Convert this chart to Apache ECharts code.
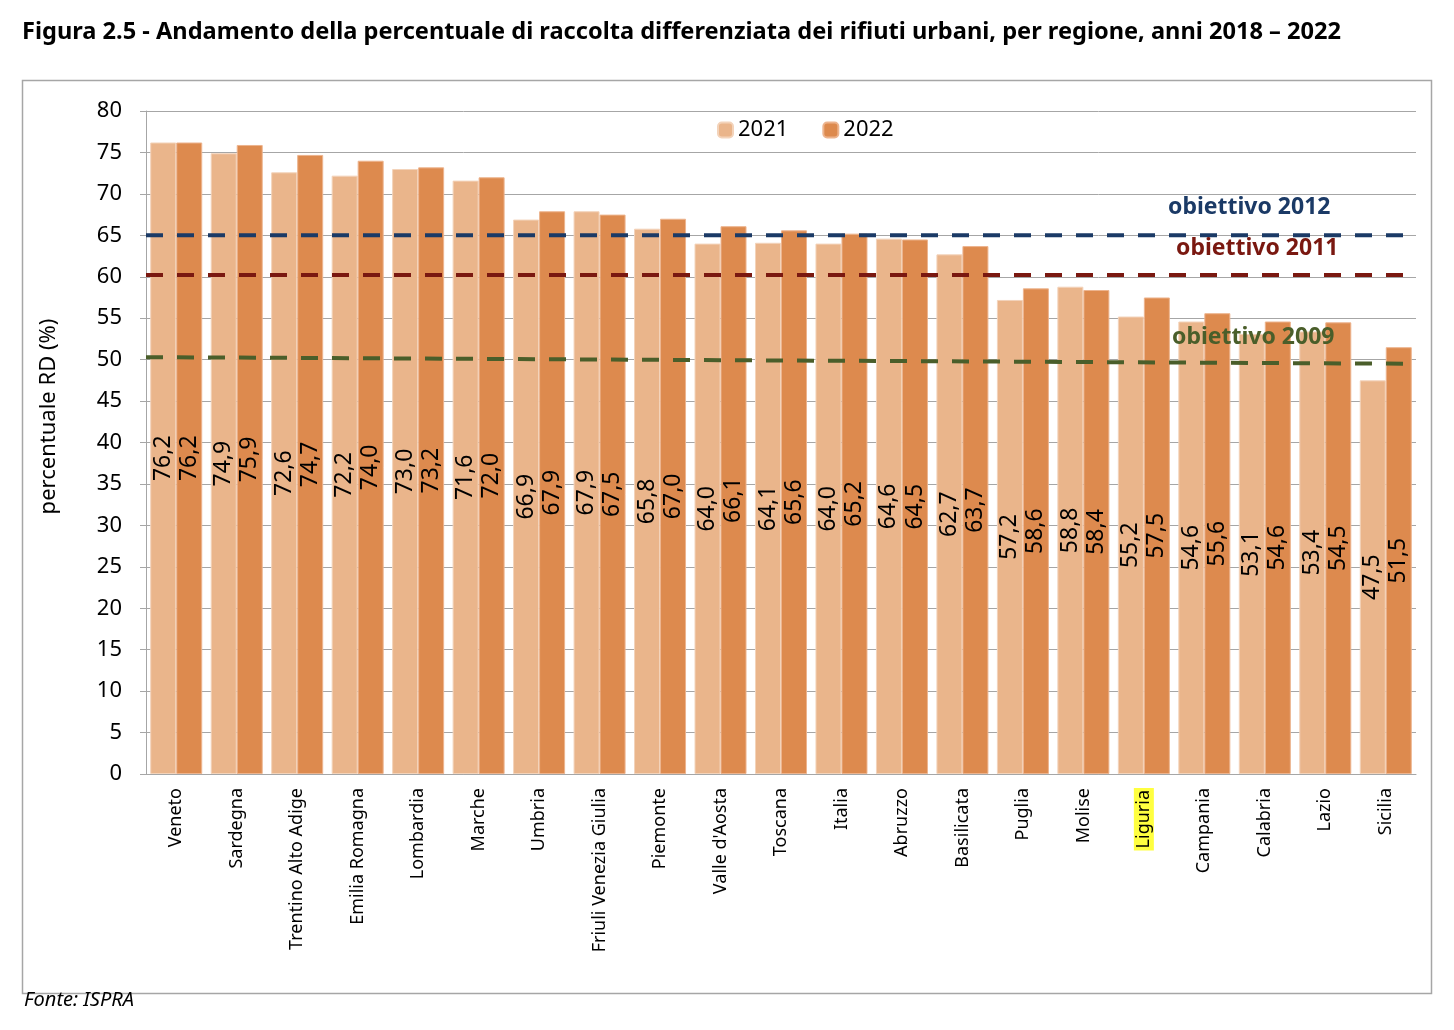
<!DOCTYPE html>
<html>
<head>
<meta charset="utf-8">
<script src="https://cdn.jsdelivr.net/npm/echarts@6/dist/echarts.min.js"></script>
<style>
  html, body { margin: 0; padding: 0; background: #fff; }
  #chart { width: 1454px; height: 1030px; }
</style>
</head>
<body>
<div id="chart"></div>
<script>
// regioni ordinate come nella figura
const regioni = ["Veneto", "Sardegna", "Trentino Alto Adige", "Emilia Romagna", "Lombardia", "Marche",
  "Umbria", "Friuli Venezia Giulia", "Piemonte", "Valle d'Aosta", "Toscana", "Italia", "Abruzzo",
  "Basilicata", "Puglia", "Molise", "Liguria", "Campania", "Calabria", "Lazio", "Sicilia"];
const rd2021 = [76.2, 74.9, 72.6, 72.2, 73.0, 71.6, 66.9, 67.9, 65.8, 64.0, 64.1, 64.0, 64.6,
  62.7, 57.2, 58.8, 55.2, 54.6, 53.1, 53.4, 47.5];
const rd2022 = [76.2, 75.9, 74.7, 74.0, 73.2, 72.0, 67.9, 67.5, 67.0, 66.1, 65.6, 65.2, 64.5,
  63.7, 58.6, 58.4, 57.5, 55.6, 54.6, 54.5, 51.5];
// obiettivi: valore a inizio e fine asse
const obiettivo2012 = [[0, 65.0], [1, 65.0]];
const obiettivo2011 = [[0, 60.2], [1, 60.2]];
const obiettivo2009 = [[0, 50.3], [1, 49.5]];

const FONT = "'Noto Sans', sans-serif";
const chart = echarts.init(document.getElementById("chart"));

const fmt = (p) => p.value.toFixed(1).replace(".", ",");
const barLabel = {
  show: true,
  position: "inside",
  rotate: 90,
  formatter: fmt,
  color: "#000",
  fontSize: 23,
  fontFamily: FONT
};
const dash = (color) => ({
  type: "line",
  xAxisIndex: 1,
  symbol: "none",
  silent: true,
  z: 5,
  lineStyle: { color: color, width: 4, type: [17, 14] }
});

chart.setOption({
  animation: false,
  textStyle: { fontFamily: FONT },
  grid: { left: 146, right: 38, top: 111, bottom: 256 },
  legend: {
    data: ["2021", "2022"],
    left: 712,
    top: 114,
    itemWidth: 15,
    itemHeight: 15,
    itemGap: 34,
    textStyle: { fontSize: 22, color: "#000", fontFamily: FONT }
  },
  xAxis: [{
    type: "category",
    data: regioni,
    axisLine: { lineStyle: { color: "#A6A6A6" } },
    axisTick: { length: 6, lineStyle: { color: "#A6A6A6" } },
    axisLabel: {
      rotate: 90,
      interval: 0,
      margin: 14,
      fontSize: 18,
      color: "#000",
      fontFamily: FONT,
      formatter: (v) => v === "Liguria" ? "{hl|" + v + "}" : v,
      rich: { hl: { backgroundColor: "#FFFF40", fontSize: 18, color: "#000", padding: [1, 2] } }
    }
  }, {
    type: "value",
    min: 0,
    max: 1,
    show: false
  }],
  yAxis: {
    type: "value",
    min: 0,
    max: 80,
    interval: 5,
    name: "percentuale RD (%)",
    nameLocation: "middle",
    nameGap: 86,
    nameTextStyle: { fontSize: 22, color: "#000", fontFamily: FONT, padding: [0, 0, 0, 52] },
    axisLine: { show: true, lineStyle: { color: "#A6A6A6" } },
    axisTick: { show: true, length: 6, lineStyle: { color: "#A6A6A6" } },
    axisLabel: { fontSize: 22, color: "#000", margin: 24, fontFamily: FONT },
    splitLine: { lineStyle: { color: "#A6A6A6", width: 1 } }
  },
  series: [{
    name: "2021",
    type: "bar",
    data: rd2021,
    barGap: "0%",
    barCategoryGap: "14%",
    itemStyle: { color: "#EAB58B", borderColor: "#F3D3BA", borderWidth: 1 },
    label: barLabel
  }, {
    name: "2022",
    type: "bar",
    data: rd2022,
    itemStyle: { color: "#DD8A4E", borderColor: "#EDB48E", borderWidth: 1 },
    label: barLabel
  },
  Object.assign(dash("#1B3A66"), { name: "obiettivo 2012", data: obiettivo2012 }),
  Object.assign(dash("#7A1810"), { name: "obiettivo 2011", data: obiettivo2011 }),
  Object.assign(dash("#4A5E2A"), { name: "obiettivo 2009", data: obiettivo2009 })
  ],
  graphic: [{
    type: "rect",
    shape: { x: 22.5, y: 80.5, width: 1409, height: 913 },
    style: { fill: null, stroke: "#A6A6A6", lineWidth: 1.5 },
    z: -1
  }, {
    type: "text",
    left: 22,
    top: 20,
    style: {
      text: "Figura 2.5 - Andamento della percentuale di raccolta differenziata dei rifiuti urbani, per regione, anni 2018 \u2013 2022",
      font: "bold 23.6px " + FONT,
      fill: "#000"
    }
  }, {
    type: "text",
    left: 24,
    top: 990,
    style: { text: "Fonte: ISPRA", font: "italic 20px " + FONT, fill: "#000" }
  }, {
    type: "text",
    left: 1168,
    top: 196,
    z: 100,
    style: { text: "obiettivo 2012", font: "bold 23px " + FONT, fill: "#1B3A66" }
  }, {
    type: "text",
    left: 1176,
    top: 237,
    z: 100,
    style: { text: "obiettivo 2011", font: "bold 23px " + FONT, fill: "#7A1810" }
  }, {
    type: "text",
    left: 1172,
    top: 326,
    z: 100,
    style: { text: "obiettivo 2009", font: "bold 23px " + FONT, fill: "#4A5E2A" }
  }]
});
</script>
</body>
</html>
